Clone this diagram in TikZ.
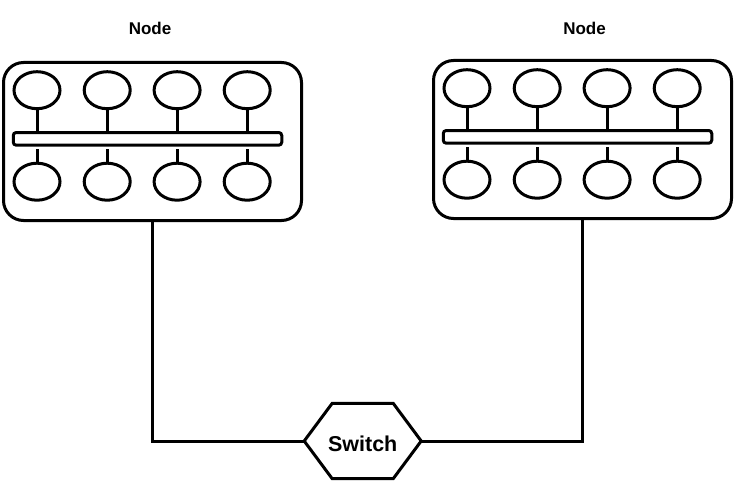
\documentclass[tikz,border=0pt]{standalone}
\usepackage{fontspec}
\setmainfont{Liberation Sans}
\usetikzlibrary{shapes.geometric,calc}
\begin{document}
\begin{tikzpicture}[x=1pt,y=-1pt,
  lw/.style={line width=3pt},
  box/.style={draw,lw,rounded corners=20pt,minimum width=298pt,minimum height=158pt,inner sep=0pt},
  host/.style={draw,lw,ellipse,minimum width=46pt,minimum height=37pt,inner sep=0pt},
  bus/.style={draw,lw,rounded corners=3pt,minimum width=268.5pt,minimum height=12.7pt,inner sep=0pt},
  title/.style={font=\bfseries\fontsize{17}{19}\selectfont,anchor=base,inner sep=0pt},
  swtext/.style={font=\bfseries\fontsize{21.5}{24}\selectfont,anchor=base,inner sep=0pt},
]
\useasboundingbox (0,0) rectangle (735,484);
\foreach \p/\cx/\cy/\lx in {A/152.5/141.5/150, B/582.5/139.5/584.5}{
  \node[box] (\p-box) at (\cx,\cy) {};
  \node[title] (\p-title) at (\lx,34.5) {Node};
  \node[bus] (\p-bus) at ($(\cx,\cy)+(-5,-2.65)$) {};
  \foreach \i/\dx in {1/-115.5,2/-45.3,3/24.6,4/94.7}{
    \node[host] (\p-t\i) at ($(\cx,\cy)+(\dx,-51.3)$) {};
    \node[host] (\p-b\i) at ($(\cx,\cy)+(\dx,40.2)$) {};
    \draw[lw] (\p-t\i.south) -- (\p-t\i.south |- \p-bus.north);
    \draw[lw] (\p-b\i.north) -- ++(0,-12.5);
  }
}
\coordinate (swc) at (362.7,441);
\draw[lw] ($(swc)+(-58.5,0)$) coordinate (swL) -- ($(swc)+(-30.5,-37.7)$) -- ($(swc)+(30.5,-37.7)$) -- ($(swc)+(58.5,0)$) coordinate (swR) -- ($(swc)+(30.5,37.7)$) -- ($(swc)+(-30.5,37.7)$) -- cycle;
\node[swtext] (sw) at (362.7,451.5) {Switch};
\draw[lw] (A-box.south) |- (swL);
\draw[lw] (swR) -| (B-box.south);
\end{tikzpicture}
\end{document}
